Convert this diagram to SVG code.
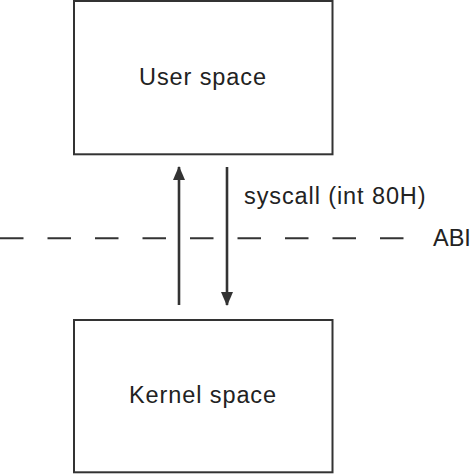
<svg xmlns="http://www.w3.org/2000/svg" width="474" height="474" viewBox="0 0 474 474">
<style>
.box{fill:#fff;stroke:#333;stroke-width:2}
.lbl{font-family:"Liberation Sans",Arial,sans-serif;fill:#222;font-size:23.5px;letter-spacing:0.9px}
.arr{stroke:#333;stroke-width:2.6;fill:none}
.dash{stroke:#333;stroke-width:2;stroke-dasharray:23.5 24;fill:none}
</style>
<defs>
<marker id="ah" viewBox="0 0 14 12" refX="13" refY="6" markerWidth="14" markerHeight="12" markerUnits="userSpaceOnUse" orient="auto">
<path d="M0,0 L14,6 L0,12 Z" fill="#333"/>
</marker>
</defs>
<rect width="474" height="474" fill="#fff"/>
<g id="abi">
<line class="dash" x1="0" y1="238.3" x2="404" y2="238.3"/>
<text class="lbl" x="433" y="246" style="letter-spacing:0">ABI</text>
</g>
<g id="user-space">
<rect class="box" x="74" y="1" width="258.5" height="153.3"/>
<text class="lbl" x="203" y="85" text-anchor="middle">User space</text>
</g>
<g id="kernel-space">
<rect class="box" x="74" y="320" width="258.5" height="152.3"/>
<text class="lbl" x="203" y="403" text-anchor="middle">Kernel space</text>
</g>
<g id="connectors">
<line class="arr" x1="179" y1="305" x2="179" y2="167" marker-end="url(#ah)"/>
<line class="arr" x1="227" y1="167" x2="227" y2="305" marker-end="url(#ah)"/>
<text class="lbl" x="244" y="204">syscall (int 80H)</text>
</g>
</svg>
